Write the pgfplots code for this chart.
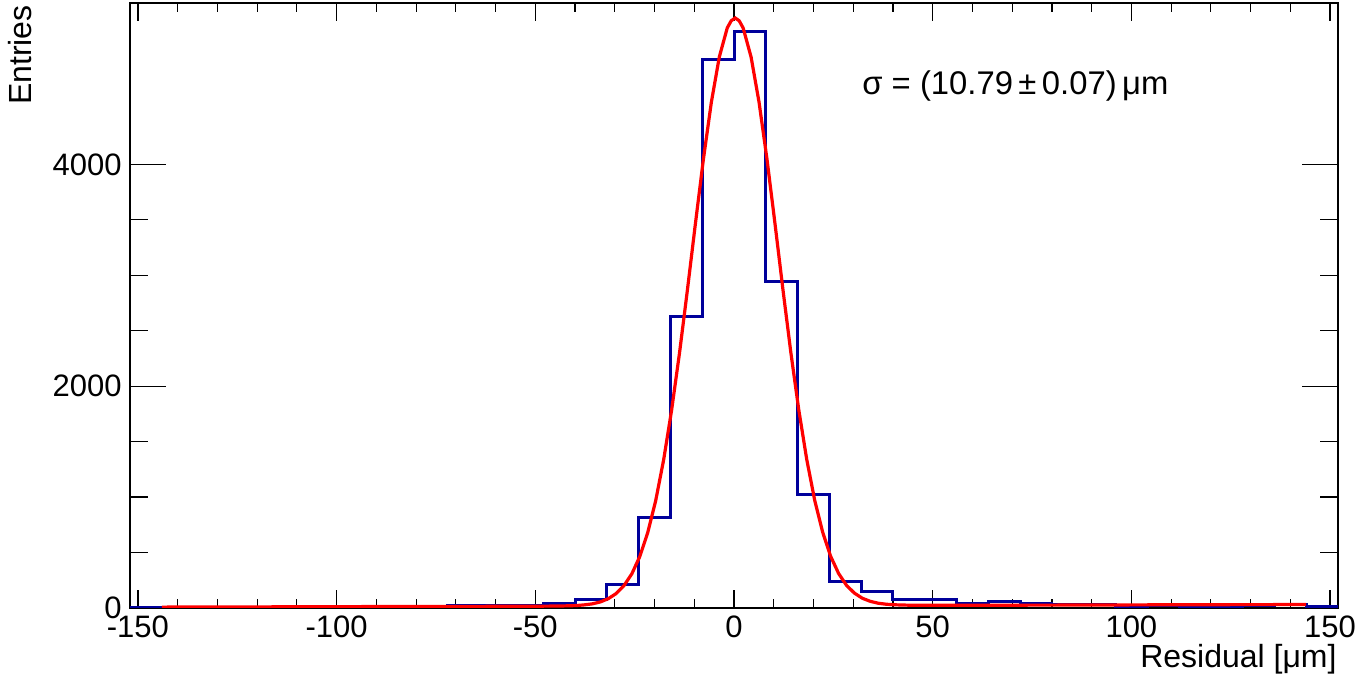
\documentclass[border=0pt]{standalone}
\usepackage{fontspec}
\setmainfont{Liberation Sans}
\usepackage{pgfplots}
\pgfplotsset{compat=1.18}
\definecolor{rootblue}{RGB}{0,0,155}
\definecolor{rootred}{RGB}{255,0,0}
\begin{document}
\begin{tikzpicture}
\useasboundingbox (-65pt,-36.5pt) rectangle (616pt,304pt);
\begin{axis}[
  scale only axis, width=604pt, height=302.5pt,
  xmin=-152, xmax=152, ymin=0, ymax=5455,
  xtick={-150,-100,...,150}, minor x tick num=4,
  ytick={0,2000,4000}, minor y tick num=3,
  tick align=inside,
  axis line style={line width=1.2pt},
  tick style={line width=0.6pt,black},
  major tick length=9pt, minor tick length=4.5pt,
  major y tick style={/pgfplots/major tick length=18pt},
  minor y tick style={/pgfplots/minor tick length=9pt},
  /pgf/number format/assume math mode=true,
  /pgf/number format/1000 sep={},
  ticklabel style={font=\fontsize{15.5}{18}\selectfont, inner sep=0pt},
  xticklabel style={yshift=-3.5pt},
  yticklabel style={xshift=-4pt},
  clip=true,
]
% histogram, left bin edges (last point closes the final bin)
\addplot[const plot, draw=rootblue, line width=1.5pt] coordinates {
  (-152,5) (-144,3) (-136,2) (-128,3) (-120,5) (-112,6) (-104,8) (-96,10)
  (-88,12) (-80,14) (-72,27) (-64,27) (-56,27) (-48,39) (-40,75) (-32,210)
  (-24,820) (-16,2625) (-8,4943) (0,5196) (8,2940) (16,1020) (24,237)
  (32,150) (40,75) (48,75) (56,45) (64,57) (72,45) (80,30) (88,30) (96,5)
  (104,25) (112,12) (120,12) (128,25) (136,36) (144,12) (152,12)
};
% gaussian fit with small background
\addplot[draw=rootred, line width=1.6pt] coordinates {
  (-144,8) (-120,10) (-100,12) (-80,14) (-60,15) (-50,16) (-43.7,18)
  (-39.7,22) (-37.7,28) (-35.7,37) (-33.7,54) (-31.7,83) (-29.7,129)
  (-27.7,201) (-25.7,309) (-23.7,465) (-21.7,681) (-19.7,969) (-17.7,1337)
  (-15.7,1784) (-13.7,2303) (-11.7,2875) (-9.7,3469) (-7.7,4046)
  (-5.7,4560) (-3.7,4968) (-1.7,5230) (-0.7,5295) (0.3,5320) (1.3,5295)
  (2.3,5230) (4.3,4968) (6.3,4561) (8.3,4047) (10.3,3470) (12.3,2876)
  (14.3,2305) (16.3,1787) (18.3,1340) (20.3,973) (22.3,685) (24.3,468)
  (26.3,313) (28.3,205) (30.3,134) (32.3,88) (34.3,60) (36.3,43)
  (38.3,34) (40.3,29) (44.3,25) (50,24) (60,25) (80,26) (100,28)
  (120,30) (144,31)
};
\end{axis}
\node[anchor=base west, inner sep=0pt, font=\fontsize{16.4}{19}\selectfont]
  at (366pt,256.5pt) {σ = (10.79\,±\,0.07)\,μm};
\node[rotate=90, anchor=north east, inner sep=0pt, font=\fontsize{16}{19}\selectfont]
  at (-61pt,301.5pt) {Entries};
\node[anchor=base east, inner sep=0pt, font=\fontsize{16}{19}\selectfont]
  at (603.5pt,-30pt) {Residual [μm]};
\end{tikzpicture}
\end{document}
